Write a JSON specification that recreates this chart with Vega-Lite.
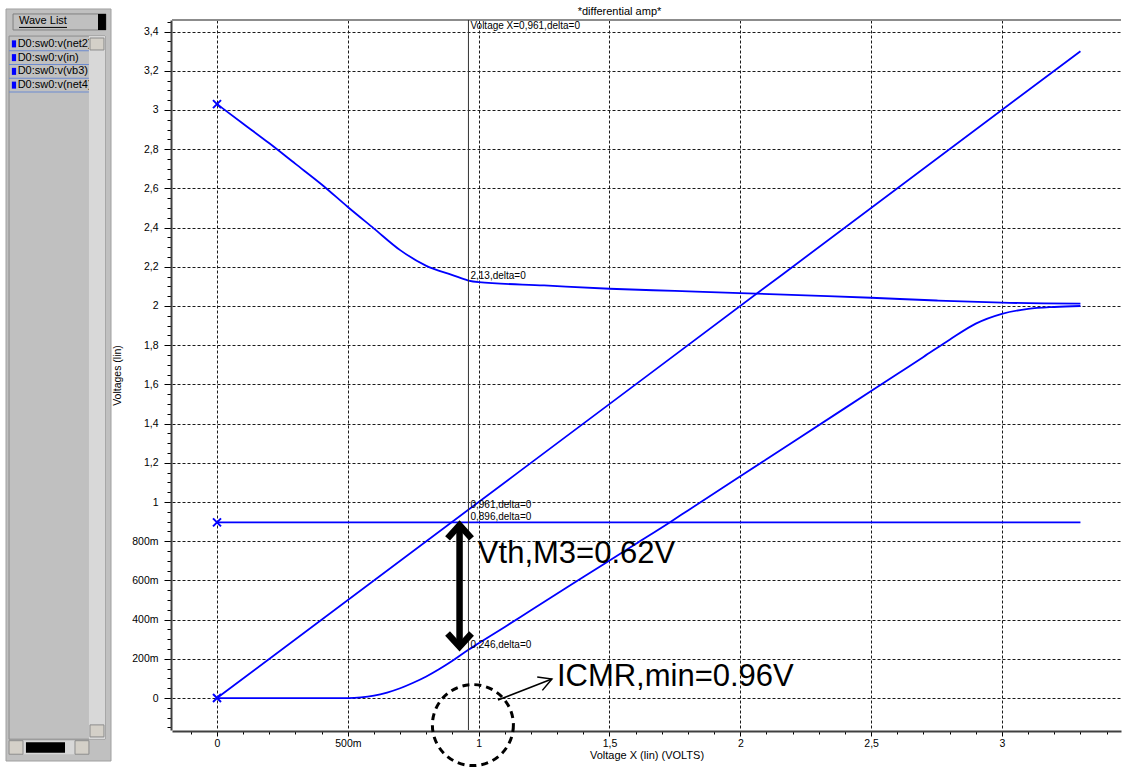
{
  "$schema": "https://vega.github.io/schema/vega-lite/v6.json",
  "background": "#ffffff",
  "padding": {"left": 5, "top": 5, "right": 0, "bottom": 0},
  "spacing": 0,
  "config": {"font": "Liberation Sans"},
  "datasets": {
    "waves": [
      {"wave": "D0:sw0:v(net2)", "x": 0, "v": 3.03},
      {"wave": "D0:sw0:v(net2)", "x": 0.1, "v": 2.93},
      {"wave": "D0:sw0:v(net2)", "x": 0.2, "v": 2.83},
      {"wave": "D0:sw0:v(net2)", "x": 0.3, "v": 2.725},
      {"wave": "D0:sw0:v(net2)", "x": 0.4, "v": 2.62},
      {"wave": "D0:sw0:v(net2)", "x": 0.5, "v": 2.505},
      {"wave": "D0:sw0:v(net2)", "x": 0.6, "v": 2.395},
      {"wave": "D0:sw0:v(net2)", "x": 0.7, "v": 2.285},
      {"wave": "D0:sw0:v(net2)", "x": 0.8, "v": 2.205},
      {"wave": "D0:sw0:v(net2)", "x": 0.9, "v": 2.158},
      {"wave": "D0:sw0:v(net2)", "x": 0.961, "v": 2.13},
      {"wave": "D0:sw0:v(net2)", "x": 1, "v": 2.122},
      {"wave": "D0:sw0:v(net2)", "x": 1.25, "v": 2.105},
      {"wave": "D0:sw0:v(net2)", "x": 1.5, "v": 2.088},
      {"wave": "D0:sw0:v(net2)", "x": 1.75, "v": 2.077},
      {"wave": "D0:sw0:v(net2)", "x": 2, "v": 2.066},
      {"wave": "D0:sw0:v(net2)", "x": 2.25, "v": 2.054},
      {"wave": "D0:sw0:v(net2)", "x": 2.5, "v": 2.042},
      {"wave": "D0:sw0:v(net2)", "x": 2.75, "v": 2.028},
      {"wave": "D0:sw0:v(net2)", "x": 3, "v": 2.017},
      {"wave": "D0:sw0:v(net2)", "x": 3.3, "v": 2.012},
      {"wave": "D0:sw0:v(in)", "x": 0, "v": 0},
      {"wave": "D0:sw0:v(in)", "x": 1.65, "v": 1.65},
      {"wave": "D0:sw0:v(in)", "x": 3.3, "v": 3.3},
      {"wave": "D0:sw0:v(vb3)", "x": 0, "v": 0.896},
      {"wave": "D0:sw0:v(vb3)", "x": 1.65, "v": 0.896},
      {"wave": "D0:sw0:v(vb3)", "x": 3.3, "v": 0.896},
      {"wave": "D0:sw0:v(net4)", "x": 0, "v": 0},
      {"wave": "D0:sw0:v(net4)", "x": 0.25, "v": 0},
      {"wave": "D0:sw0:v(net4)", "x": 0.5, "v": 0},
      {"wave": "D0:sw0:v(net4)", "x": 0.55, "v": 0.003},
      {"wave": "D0:sw0:v(net4)", "x": 0.6, "v": 0.012},
      {"wave": "D0:sw0:v(net4)", "x": 0.65, "v": 0.028},
      {"wave": "D0:sw0:v(net4)", "x": 0.7, "v": 0.05},
      {"wave": "D0:sw0:v(net4)", "x": 0.75, "v": 0.078},
      {"wave": "D0:sw0:v(net4)", "x": 0.8, "v": 0.11},
      {"wave": "D0:sw0:v(net4)", "x": 0.85, "v": 0.148},
      {"wave": "D0:sw0:v(net4)", "x": 0.9, "v": 0.19},
      {"wave": "D0:sw0:v(net4)", "x": 0.961, "v": 0.246},
      {"wave": "D0:sw0:v(net4)", "x": 1, "v": 0.279},
      {"wave": "D0:sw0:v(net4)", "x": 1.1, "v": 0.363},
      {"wave": "D0:sw0:v(net4)", "x": 1.2, "v": 0.448},
      {"wave": "D0:sw0:v(net4)", "x": 1.4, "v": 0.617},
      {"wave": "D0:sw0:v(net4)", "x": 1.6, "v": 0.786},
      {"wave": "D0:sw0:v(net4)", "x": 1.73, "v": 0.896},
      {"wave": "D0:sw0:v(net4)", "x": 1.8, "v": 0.957},
      {"wave": "D0:sw0:v(net4)", "x": 2, "v": 1.131},
      {"wave": "D0:sw0:v(net4)", "x": 2.2, "v": 1.305},
      {"wave": "D0:sw0:v(net4)", "x": 2.4, "v": 1.479},
      {"wave": "D0:sw0:v(net4)", "x": 2.6, "v": 1.653},
      {"wave": "D0:sw0:v(net4)", "x": 2.7, "v": 1.74},
      {"wave": "D0:sw0:v(net4)", "x": 2.8, "v": 1.828},
      {"wave": "D0:sw0:v(net4)", "x": 2.9, "v": 1.91},
      {"wave": "D0:sw0:v(net4)", "x": 3, "v": 1.96},
      {"wave": "D0:sw0:v(net4)", "x": 3.1, "v": 1.985},
      {"wave": "D0:sw0:v(net4)", "x": 3.2, "v": 1.995},
      {"wave": "D0:sw0:v(net4)", "x": 3.3, "v": 2}
    ],
    "readouts": [
      {"x": 0.961, "v": 2.13, "text": "2,13,delta=0"},
      {"x": 0.961, "v": 0.961, "text": "0,961,delta=0"},
      {"x": 0.961, "v": 0.896, "text": "0,896,delta=0"},
      {"x": 0.961, "v": 0.246, "text": "0,246,delta=0"}
    ],
    "cursor": [{"x": 0.961, "text": "Voltage X=0,961,delta=0"}],
    "vth": [{"x": 0.927, "lo": 0.262, "hi": 0.882}],
    "notes": [
      {"x": 0.997, "v": 0.689, "text": "Vth,M3=0.62V"},
      {"x": 1.299, "v": 0.061, "text": "ICMR,min=0.96V"}
    ],
    "pointer": [{"x": 1.074, "v": -0.01, "x2": 1.28, "v2": 0.097}],
    "icmr": [{"x": 0.978, "v": -0.138}]
  },
  "hconcat": [
    {
      "width": 105,
      "height": 741,
      "view": {"fill": null, "stroke": null},
      "title": {"text": "Wave List", "anchor": "start", "frame": "group", "offset": -18, "dx": 13, "fontSize": 11, "fontWeight": "normal", "font": "Liberation Sans", "color": "#000000", "zindex": 1},
      "resolve": {"scale": {"y": "independent"}},
      "layer": [
        {
          "data": {"values": [{}]},
          "mark": {"type": "rect", "fill": "#c0c0c0", "stroke": "#a0a0a0", "strokeWidth": 1},
          "encoding": {
            "x": {"datum": 0, "type": "quantitative", "scale": {"domain": [0, 1]}, "axis": null},
            "x2": {"datum": 1},
            "y": {"datum": 0, "type": "quantitative", "scale": {"domain": [0.014628, 1], "reverse": true}, "axis": null},
            "y2": {"datum": 1}
          }
        },
        {
          "data": {"values": [{}]},
          "mark": {"type": "rect", "filled": false, "color": "#808080"},
          "encoding": {
            "x": {"datum": 0.067, "type": "quantitative", "scale": {"domain": [0, 1]}, "axis": null},
            "x2": {"datum": 0.952},
            "y": {"datum": 0.0066, "type": "quantitative", "scale": {"domain": [0.014628, 1], "reverse": true}, "axis": null},
            "y2": {"datum": 0.0279}
          }
        },
        {
          "data": {"values": [{}]},
          "mark": {"type": "rect", "color": "#000000"},
          "encoding": {
            "x": {"datum": 0.876, "type": "quantitative", "scale": {"domain": [0, 1]}, "axis": null},
            "x2": {"datum": 0.952},
            "y": {"datum": 0.0066, "type": "quantitative", "scale": {"domain": [0.014628, 1], "reverse": true}, "axis": null},
            "y2": {"datum": 0.0279}
          }
        },
        {
          "data": {"values": [{}]},
          "mark": {"type": "rule", "color": "#000000", "strokeWidth": 1},
          "encoding": {
            "x": {"datum": 0.124, "type": "quantitative", "scale": {"domain": [0, 1]}, "axis": null},
            "x2": {"datum": 0.581},
            "y": {"datum": 0.0245, "type": "quantitative", "scale": {"domain": [0.014628, 1], "reverse": true}, "axis": null}
          }
        },
        {
          "data": {"values": [{}]},
          "mark": {"type": "rect", "filled": false, "color": "#8c8c8c"},
          "encoding": {
            "x": {"datum": 0.029, "type": "quantitative", "scale": {"domain": [0, 1]}, "axis": null},
            "x2": {"datum": 0.943},
            "y": {"datum": 0.036, "type": "quantitative", "scale": {"domain": [0.014628, 1], "reverse": true}, "axis": null},
            "y2": {"datum": 0.971}
          }
        },
        {
          "data": {"name": "waves"},
          "transform": [{"aggregate": [{"op": "count", "as": "n"}], "groupby": ["wave"]}],
          "mark": {"type": "rule", "color": "#6d8bd0", "strokeWidth": 1},
          "encoding": {
            "x": {"datum": 0.029, "type": "quantitative", "scale": {"domain": [0, 1]}, "axis": null},
            "x2": {"datum": 0.79},
            "y": {"field": "wave", "type": "nominal", "bandPosition": 1, "scale": {"type": "band", "domain": ["D0:sw0:v(net2)", "D0:sw0:v(in)", "D0:sw0:v(vb3)", "D0:sw0:v(net4)"], "range": [17, 72], "paddingInner": 0, "paddingOuter": 0}, "axis": null}
          }
        },
        {
          "data": {"name": "waves"},
          "transform": [{"aggregate": [{"op": "count", "as": "n"}], "groupby": ["wave"]}],
          "mark": {"type": "point", "shape": "M-0.6,-1H0.6V1H-0.6Z", "size": 49, "filled": true, "color": "#0000ff", "opacity": 1},
          "encoding": {
            "x": {"datum": 0.076, "type": "quantitative", "scale": {"domain": [0, 1]}, "axis": null},
            "y": {"field": "wave", "type": "nominal", "scale": {"type": "band", "domain": ["D0:sw0:v(net2)", "D0:sw0:v(in)", "D0:sw0:v(vb3)", "D0:sw0:v(net4)"], "range": [17, 72], "paddingInner": 0, "paddingOuter": 0}, "axis": null}
          }
        },
        {
          "data": {"name": "waves"},
          "transform": [{"aggregate": [{"op": "count", "as": "n"}], "groupby": ["wave"]}],
          "mark": {"type": "text", "align": "left", "baseline": "middle", "fontSize": 11, "color": "#000000", "font": "Liberation Sans"},
          "encoding": {
            "x": {"datum": 0.111, "type": "quantitative", "scale": {"domain": [0, 1]}, "axis": null},
            "y": {"field": "wave", "type": "nominal", "scale": {"type": "band", "domain": ["D0:sw0:v(net2)", "D0:sw0:v(in)", "D0:sw0:v(vb3)", "D0:sw0:v(net4)"], "range": [17, 72], "paddingInner": 0, "paddingOuter": 0}, "axis": null},
            "text": {"field": "wave"}
          }
        },
        {
          "data": {"values": [{}]},
          "mark": {"type": "rect", "color": "#d8d8d8"},
          "encoding": {
            "x": {"datum": 0.79, "type": "quantitative", "scale": {"domain": [0, 1]}, "axis": null},
            "x2": {"datum": 0.943},
            "y": {"datum": 0.036, "type": "quantitative", "scale": {"domain": [0.014628, 1], "reverse": true}, "axis": null},
            "y2": {"datum": 0.971}
          }
        },
        {
          "data": {"values": [{}]},
          "mark": {"type": "rect", "fill": "#d4d0c8", "stroke": "#8c8c8c"},
          "encoding": {
            "x": {"datum": 0.8, "type": "quantitative", "scale": {"domain": [0, 1]}, "axis": null},
            "x2": {"datum": 0.933},
            "y": {"datum": 0.0386, "type": "quantitative", "scale": {"domain": [0.014628, 1], "reverse": true}, "axis": null},
            "y2": {"datum": 0.0545}
          }
        },
        {
          "data": {"values": [{}]},
          "mark": {"type": "rect", "fill": "#d4d0c8", "stroke": "#8c8c8c"},
          "encoding": {
            "x": {"datum": 0.8, "type": "quantitative", "scale": {"domain": [0, 1]}, "axis": null},
            "x2": {"datum": 0.933},
            "y": {"datum": 0.952, "type": "quantitative", "scale": {"domain": [0.014628, 1], "reverse": true}, "axis": null},
            "y2": {"datum": 0.968}
          }
        },
        {
          "data": {"values": [{}]},
          "mark": {"type": "rect", "color": "#d8d8d8"},
          "encoding": {
            "x": {"datum": 0.029, "type": "quantitative", "scale": {"domain": [0, 1]}, "axis": null},
            "x2": {"datum": 0.79},
            "y": {"datum": 0.973, "type": "quantitative", "scale": {"domain": [0.014628, 1], "reverse": true}, "axis": null},
            "y2": {"datum": 0.991}
          }
        },
        {
          "data": {"values": [{}]},
          "mark": {"type": "rect", "fill": "#d4d0c8", "stroke": "#8c8c8c"},
          "encoding": {
            "x": {"datum": 0.029, "type": "quantitative", "scale": {"domain": [0, 1]}, "axis": null},
            "x2": {"datum": 0.162},
            "y": {"datum": 0.973, "type": "quantitative", "scale": {"domain": [0.014628, 1], "reverse": true}, "axis": null},
            "y2": {"datum": 0.991}
          }
        },
        {
          "data": {"values": [{}]},
          "mark": {"type": "rect", "fill": "#d4d0c8", "stroke": "#8c8c8c"},
          "encoding": {
            "x": {"datum": 0.657, "type": "quantitative", "scale": {"domain": [0, 1]}, "axis": null},
            "x2": {"datum": 0.79},
            "y": {"datum": 0.973, "type": "quantitative", "scale": {"domain": [0.014628, 1], "reverse": true}, "axis": null},
            "y2": {"datum": 0.991}
          }
        },
        {
          "data": {"values": [{}]},
          "mark": {"type": "rect", "color": "#000000"},
          "encoding": {
            "x": {"datum": 0.19, "type": "quantitative", "scale": {"domain": [0, 1]}, "axis": null},
            "x2": {"datum": 0.562},
            "y": {"datum": 0.975, "type": "quantitative", "scale": {"domain": [0.014628, 1], "reverse": true}, "axis": null},
            "y2": {"datum": 0.989}
          }
        }
      ]
    },
    {
      "width": 949,
      "height": 710,
      "view": {"stroke": null},
      "title": {"text": "*differential amp*", "anchor": "middle", "frame": "group", "offset": 0, "dx": -27, "fontSize": 11, "fontWeight": "normal", "font": "Liberation Sans", "color": "#000000"},
      "layer": [
        {
          "data": {"name": "waves"},
          "mark": {"type": "line", "color": "#0000ff", "strokeWidth": 1.8, "interpolate": "monotone"},
          "encoding": {
            "x": {
              "field": "x", "type": "quantitative",
              "scale": {"domain": [-0.172, 3.455], "nice": false, "zero": false},
              "axis": {
                "title": "Voltage X (lin) (VOLTS)",
                "titleFont": "Liberation Sans", "titleFontSize": 11, "titleFontWeight": "normal", "titleColor": "#000000", "titlePadding": 1,
                "tickCount": 200,
                "values": [-0.1, 0, 0.1, 0.2, 0.3, 0.4, 0.5, 0.6, 0.7, 0.8, 0.9, 1, 1.1, 1.2, 1.3, 1.4, 1.5, 1.6, 1.7, 1.8, 1.9, 2, 2.1, 2.2, 2.3, 2.4, 2.5, 2.6, 2.7, 2.8, 2.9, 3, 3.1, 3.2, 3.3, 3.4],
                "labelExpr": "abs(datum.value * 2 - round(datum.value * 2)) > 0.01 ? '' : (abs(datum.value) < 0.001 ? '0' : (abs(datum.value) < 0.999 ? format(datum.value * 1000, '.0f') + 'm' : replace(format(datum.value, '.2~f'), '.', ',')))",
                "labelFont": "Liberation Sans", "labelFontSize": 10.5, "labelColor": "#000000", "labelPadding": 2,
                "labelFlush": false, "labelOverlap": false, "labelBound": false,
                "tickColor": "#000000",
                "tickSize": {"condition": {"test": "abs(datum.value * 2 - round(datum.value * 2)) < 0.01", "value": 5}, "value": 3},
                "grid": true, "gridColor": "#1a1a1a", "gridDash": [3, 2], "gridWidth": 1,
                "gridOpacity": {"condition": {"test": "abs(datum.value * 2 - round(datum.value * 2)) < 0.01", "value": 1}, "value": 0},
                "domainColor": "#404040", "domainWidth": 2, "offset": 1
              }
            },
            "y": {
              "field": "v", "type": "quantitative",
              "scale": {"domain": [-0.163, 3.459], "nice": false, "zero": false},
              "axis": {
                "title": "Voltages (lin)",
                "titleFont": "Liberation Sans", "titleFontSize": 10.5, "titleFontWeight": "normal", "titleColor": "#000000",
                "titleX": -49, "titleBaseline": "bottom", "titleAngle": -90,
                "tickCount": 200,
                "values": [-0.15, -0.1, -0.05, 0, 0.05, 0.1, 0.15, 0.2, 0.25, 0.3, 0.35, 0.4, 0.45, 0.5, 0.55, 0.6, 0.65, 0.7, 0.75, 0.8, 0.85, 0.9, 0.95, 1, 1.05, 1.1, 1.15, 1.2, 1.25, 1.3, 1.35, 1.4, 1.45, 1.5, 1.55, 1.6, 1.65, 1.7, 1.75, 1.8, 1.85, 1.9, 1.95, 2, 2.05, 2.1, 2.15, 2.2, 2.25, 2.3, 2.35, 2.4, 2.45, 2.5, 2.55, 2.6, 2.65, 2.7, 2.75, 2.8, 2.85, 2.9, 2.95, 3, 3.05, 3.1, 3.15, 3.2, 3.25, 3.3, 3.35, 3.4, 3.45],
                "labelExpr": "abs(datum.value * 5 - round(datum.value * 5)) > 0.01 ? '' : (abs(datum.value) < 0.001 ? '0' : (abs(datum.value) < 0.999 ? format(datum.value * 1000, '.0f') + 'm' : replace(format(datum.value, '.2~f'), '.', ',')))",
                "labelFont": "Liberation Sans", "labelFontSize": 10.5, "labelColor": "#000000", "labelPadding": 6,
                "labelFlush": false, "labelOverlap": false, "labelBound": false,
                "tickColor": "#000000",
                "tickSize": {"condition": {"test": "abs(datum.value * 5 - round(datum.value * 5)) < 0.01", "value": 7}, "value": 4},
                "grid": true, "gridColor": "#1a1a1a", "gridDash": [3, 2], "gridWidth": 1,
                "gridOpacity": {"condition": {"test": "abs(datum.value * 5 - round(datum.value * 5)) < 0.01", "value": 1}, "value": 0},
                "domainColor": "#404040", "domainWidth": 2, "offset": 1
              }
            },
            "detail": {"field": "wave"}
          }
        },
        {
          "data": {"values": [{}]},
          "mark": {"type": "rule", "color": "#8c8c8c", "strokeWidth": 2},
          "encoding": {
            "y": {"datum": 3.459, "type": "quantitative", "scale": {"domain": [-0.163, 3.459], "nice": false, "zero": false}}
          }
        },
        {
          "data": {"name": "cursor"},
          "mark": {"type": "rule", "color": "#333333", "strokeWidth": 1},
          "encoding": {
            "x": {"field": "x", "type": "quantitative", "scale": {"domain": [-0.172, 3.455], "nice": false, "zero": false}}
          }
        },
        {
          "data": {"name": "cursor"},
          "mark": {"type": "text", "align": "left", "baseline": "top", "dx": 2, "dy": 1, "fontSize": 10, "color": "#000000", "font": "Liberation Sans"},
          "encoding": {
            "x": {"field": "x", "type": "quantitative", "scale": {"domain": [-0.172, 3.455], "nice": false, "zero": false}},
            "y": {"datum": 3.459, "type": "quantitative", "scale": {"domain": [-0.163, 3.459], "nice": false, "zero": false}},
            "text": {"field": "text"}
          }
        },
        {
          "data": {"name": "waves"},
          "transform": [{"filter": "datum.x == 0 && datum.wave != 'D0:sw0:v(net4)'"}],
          "mark": {"type": "point", "shape": "M-1,-1L1,1M-1,1L1,-1", "size": 64, "strokeWidth": 2, "filled": false, "color": "#0000ff", "opacity": 1},
          "encoding": {
            "x": {"field": "x", "type": "quantitative", "scale": {"domain": [-0.172, 3.455], "nice": false, "zero": false}},
            "y": {"field": "v", "type": "quantitative", "scale": {"domain": [-0.163, 3.459], "nice": false, "zero": false}}
          }
        },
        {
          "data": {"name": "readouts"},
          "mark": {"type": "text", "align": "left", "baseline": "bottom", "dx": 2, "fontSize": 10, "color": "#000000", "font": "Liberation Sans"},
          "encoding": {
            "x": {"field": "x", "type": "quantitative", "scale": {"domain": [-0.172, 3.455], "nice": false, "zero": false}},
            "y": {"field": "v", "type": "quantitative", "scale": {"domain": [-0.163, 3.459], "nice": false, "zero": false}},
            "text": {"field": "text"}
          }
        },
        {
          "data": {"name": "vth"},
          "mark": {"type": "rule", "color": "#000000", "strokeWidth": 6.5},
          "encoding": {
            "x": {"field": "x", "type": "quantitative", "scale": {"domain": [-0.172, 3.455], "nice": false, "zero": false}},
            "y": {"field": "lo", "type": "quantitative", "scale": {"domain": [-0.163, 3.459], "nice": false, "zero": false}},
            "y2": {"field": "hi"}
          }
        },
        {
          "data": {"name": "vth"},
          "mark": {"type": "point", "shape": "M-1,1.1L0,0L1,1.1", "size": 576, "strokeWidth": 6.5, "filled": false, "color": "#000000", "opacity": 1, "strokeJoin": "miter", "strokeCap": "butt"},
          "encoding": {
            "x": {"field": "x", "type": "quantitative", "scale": {"domain": [-0.172, 3.455], "nice": false, "zero": false}},
            "y": {"field": "hi", "type": "quantitative", "scale": {"domain": [-0.163, 3.459], "nice": false, "zero": false}}
          }
        },
        {
          "data": {"name": "vth"},
          "mark": {"type": "point", "shape": "M-1,-1.1L0,0L1,-1.1", "size": 576, "strokeWidth": 6.5, "filled": false, "color": "#000000", "opacity": 1, "strokeJoin": "miter", "strokeCap": "butt"},
          "encoding": {
            "x": {"field": "x", "type": "quantitative", "scale": {"domain": [-0.172, 3.455], "nice": false, "zero": false}},
            "y": {"field": "lo", "type": "quantitative", "scale": {"domain": [-0.163, 3.459], "nice": false, "zero": false}}
          }
        },
        {
          "data": {"name": "pointer"},
          "mark": {"type": "rule", "color": "#000000", "strokeWidth": 1.5},
          "encoding": {
            "x": {"field": "x", "type": "quantitative", "scale": {"domain": [-0.172, 3.455], "nice": false, "zero": false}},
            "y": {"field": "v", "type": "quantitative", "scale": {"domain": [-0.163, 3.459], "nice": false, "zero": false}},
            "x2": {"field": "x2"},
            "y2": {"field": "v2"}
          }
        },
        {
          "data": {"name": "pointer"},
          "mark": {"type": "point", "shape": "M-1,-0.55L0,0L-1,0.55", "size": 676, "strokeWidth": 1.5, "filled": false, "color": "#000000", "opacity": 1, "angle": -21},
          "encoding": {
            "x": {"field": "x2", "type": "quantitative", "scale": {"domain": [-0.172, 3.455], "nice": false, "zero": false}},
            "y": {"field": "v2", "type": "quantitative", "scale": {"domain": [-0.163, 3.459], "nice": false, "zero": false}}
          }
        },
        {
          "data": {"name": "icmr"},
          "mark": {"type": "point", "shape": "circle", "size": 6561, "strokeWidth": 3, "strokeDash": [7, 5], "filled": false, "color": "#000000", "opacity": 1, "clip": false},
          "encoding": {
            "x": {"field": "x", "type": "quantitative", "scale": {"domain": [-0.172, 3.455], "nice": false, "zero": false}},
            "y": {"field": "v", "type": "quantitative", "scale": {"domain": [-0.163, 3.459], "nice": false, "zero": false}}
          }
        },
        {
          "data": {"name": "notes"},
          "mark": {"type": "text", "align": "left", "baseline": "alphabetic", "fontSize": 31, "color": "#000000", "font": "Liberation Sans"},
          "encoding": {
            "x": {"field": "x", "type": "quantitative", "scale": {"domain": [-0.172, 3.455], "nice": false, "zero": false}},
            "y": {"field": "v", "type": "quantitative", "scale": {"domain": [-0.163, 3.459], "nice": false, "zero": false}},
            "text": {"field": "text"}
          }
        }
      ]
    }
  ]
}
